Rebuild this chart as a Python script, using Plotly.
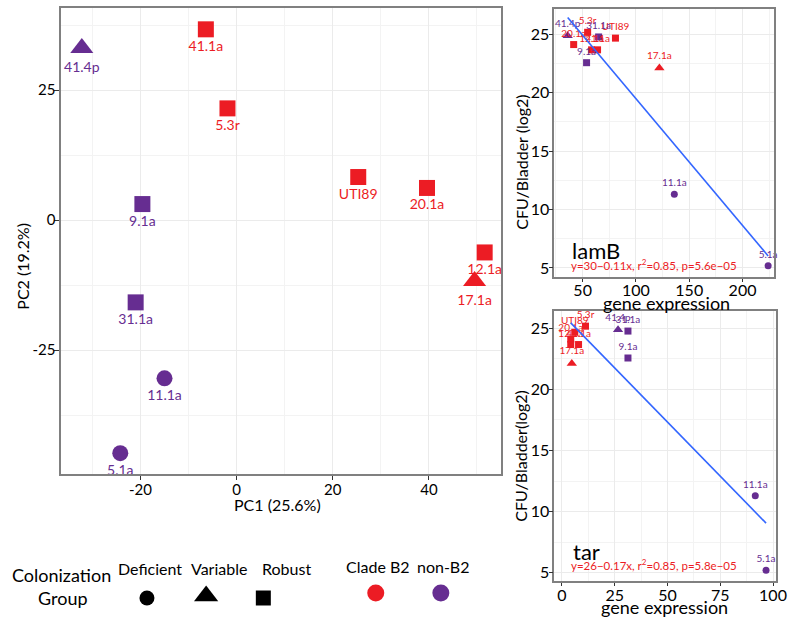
import numpy as np
import plotly.graph_objects as go

# ---------------- data ----------------
strains = ["41.4p", "41.1a", "5.3r", "9.1a", "UTI89", "20.1a", "12.1a", "17.1a", "31.1a", "11.1a", "5.1a"]
clade = ["non-B2", "B2", "B2", "non-B2", "B2", "B2", "B2", "B2", "non-B2", "non-B2", "non-B2"]
group = ["Variable", "Robust", "Robust", "Robust", "Robust", "Robust", "Robust", "Variable", "Robust", "Deficient", "Deficient"]
pc1 = [-32.2, -6.4, -1.9, -19.6, 25.3, 39.6, 51.6, 49.5, -21.0, -15.0, -24.2]
pc2 = [33.1, 36.7, 21.5, 3.1, 8.3, 6.2, -6.2, -11.7, -15.8, -30.4, -44.8]
cfu = [24.85, 23.65, 25.15, 22.55, 24.65, 24.1, 23.65, 22.1, 24.75, 11.3, 5.2]
lamB = [36, 64, 54.7, 53.7, 80.8, 41.6, 58.4, 122, 65, 136, 224]
tar = [26.6, 7.9, 11.2, 31.3, 6.1, 4.2, 4.2, 4.7, 31.3, 91.6, 96.7]

group_names = ["Deficient", "Variable", "Robust"]
clade_names = ["Clade B2", "non-B2"]
lamB_eq = "y=30\u22120.11x, r<sup>2</sup>=0.85, p=5.6e\u221205"
tar_eq = "y=26\u22120.17x, r<sup>2</sup>=0.85, p=5.8e\u221205"

# ---------------- styles ----------------
RED = "#EC1C24"
PURPLE = "#662D91"
FONT = "Lato"
col_map = {"B2": RED, "non-B2": PURPLE}
sym_map = {"Deficient": "circle", "Variable": "triangle-up", "Robust": "square"}
colors = [col_map[c] for c in clade]
symbols = [sym_map[g] for g in group]
big_sizes = [20 if g == "Variable" else 16 for g in group]
small_sizes = [9 if g == "Variable" else 7 for g in group]

fig = go.Figure()

# main PCA panel
fig.add_trace(go.Scatter(
    x=pc1, y=pc2, mode="markers+text", text=strains, textposition="bottom center",
    textfont=dict(family=FONT, size=14, color=colors),
    marker=dict(color=colors, symbol=symbols, size=big_sizes, opacity=1, line=dict(width=0)),
    cliponaxis=False, xaxis="x", yaxis="y", showlegend=False, hoverinfo="skip"))

# lamB panel
fig.add_trace(go.Scatter(
    x=lamB, y=cfu, mode="markers+text", text=strains, textposition="top center",
    textfont=dict(family=FONT, size=10, color=colors),
    marker=dict(color=colors, symbol=symbols, size=small_sizes, opacity=1, line=dict(width=0)),
    cliponaxis=False, xaxis="x2", yaxis="y2", showlegend=False, hoverinfo="skip"))
b1, b0 = np.polyfit(lamB, cfu, 1)
xl = np.array([min(lamB), max(lamB)])
fig.add_trace(go.Scatter(x=xl, y=b0 + b1 * xl, mode="lines", line=dict(color="#3366FF", width=1.6),
                         xaxis="x2", yaxis="y2", showlegend=False, hoverinfo="skip"))

# tar panel
fig.add_trace(go.Scatter(
    x=tar, y=cfu, mode="markers+text", text=strains, textposition="top center",
    textfont=dict(family=FONT, size=10, color=colors),
    marker=dict(color=colors, symbol=symbols, size=small_sizes, opacity=1, line=dict(width=0)),
    cliponaxis=False, xaxis="x3", yaxis="y3", showlegend=False, hoverinfo="skip"))
c1, c0 = np.polyfit(tar, cfu, 1)
xt = np.array([min(tar), max(tar)])
fig.add_trace(go.Scatter(x=xt, y=c0 + c1 * xt, mode="lines", line=dict(color="#3366FF", width=1.6),
                         xaxis="x3", yaxis="y3", showlegend=False, hoverinfo="skip"))

# custom legend (hidden axis x4/y4, units = pixels from bottom-left of legend strip)
fig.add_trace(go.Scatter(
    x=[149, 209, 267], y=[27, 29, 27], mode="markers",
    marker=dict(color="black", symbol=[sym_map[g] for g in group_names], size=[15, 21, 15],
                opacity=1, line=dict(width=0)),
    xaxis="x4", yaxis="y4", showlegend=False, hoverinfo="skip"))
fig.add_trace(go.Scatter(
    x=[381, 447], y=[32, 32], mode="markers",
    marker=dict(color=[RED, PURPLE], symbol="circle", size=17, opacity=1, line=dict(width=0)),
    xaxis="x4", yaxis="y4", showlegend=False, hoverinfo="skip"))

ann = []
def txt(x, y, s, size=16, color="black", xref="paper", yref="paper", xanchor="center",
        yanchor="middle", angle=0):
    ann.append(dict(x=x, y=y, text=s, xref=xref, yref=yref, showarrow=False,
                    xanchor=xanchor, yanchor=yanchor, textangle=angle,
                    font=dict(family=FONT, size=size, color=color)))

W, H = 800, 625
def px(xp, yp):
    return xp / W, 1 - yp / H

# legend texts
txt(62, 50, "Colonization", 18, xref="x4", yref="y4")
txt(64, 27, "Group", 18, xref="x4", yref="y4")
for xx, name in zip([152, 222, 290], group_names):
    txt(xx, 57, name, 16, xref="x4", yref="y4")
for xx, name in zip([383, 450], clade_names):
    txt(xx, 59, name, 16, xref="x4", yref="y4")

# axis titles
x_, y_ = px(281, 504); txt(x_, y_, "PC1 (25.6%)", 16)
x_, y_ = px(22, 266); txt(x_, y_, "PC2 (19.2%)", 16, angle=-90)
x_, y_ = px(676, 303); txt(x_, y_, "gene expression", 18)
x_, y_ = px(528, 162); txt(x_, y_, "CFU/Bladder (log2)", 16, angle=-90)
x_, y_ = px(674, 607); txt(x_, y_, "gene expression", 18)
x_, y_ = px(527, 456); txt(x_, y_, "CFU/Bladder(log2)", 16, angle=-90)

# panel labels and equations
txt(0.07, 0.10, "lamB", 22, xref="x2 domain", yref="y2 domain", xanchor="left")
txt(0.065, 0.048, lamB_eq, 11.5, color=RED, xref="x2 domain", yref="y2 domain", xanchor="left")
txt(0.075, 0.11, "tar", 22, xref="x3 domain", yref="y3 domain", xanchor="left")
txt(0.065, 0.062, tar_eq, 11.5, color=RED, xref="x3 domain", yref="y3 domain", xanchor="left")

GRID = "#ebebeb"
MINOR = "#f3f3f3"
BORDER = "#808080"

def ax(domain, rng, tickvals, minor_dtick, anchor, fsize, ticklen, standoff):
    return dict(domain=domain, range=rng, tickvals=tickvals, ticktext=[str(v) for v in tickvals],
                showgrid=True, gridcolor=GRID, gridwidth=1,
                minor=dict(dtick=minor_dtick, tick0=0, showgrid=True, gridcolor=MINOR, ticklen=0),
                showline=True, linecolor=BORDER, linewidth=1.5, mirror=True,
                ticks="outside", ticklen=ticklen, tickcolor="#333333", tickwidth=1,
                ticklabelstandoff=standoff,
                tickfont=dict(family=FONT, size=fsize, color="black"),
                zeroline=False, anchor=anchor, fixedrange=True)

layout = dict(
    width=W, height=H, margin=dict(l=0, r=0, t=0, b=0),
    paper_bgcolor="white", plot_bgcolor="white",
    font=dict(family=FONT),
    xaxis=ax([0.0775, 0.635], [-36.5, 55.0], [-20, 0, 20, 40], 10, "y", 15, 4, -3),
    yaxis=ax([0.2416, 0.9872], [-48.8, 40.8], [-25, 0, 25], 12.5, "x", 15, 5, -4),
    xaxis2=ax([0.7025, 0.98125], [23.4, 229.7], [50, 100, 150, 200], 25, "y2", 16, 3, -5),
    yaxis2=ax([0.5568, 0.9856], [4.23, 27.14], [5, 10, 15, 20, 25], 2.5, "x2", 16, 4, -4),
    xaxis3=ax([0.7025, 0.98375], [-3.6, 101.5], [0, 25, 50, 75, 100], 12.5, "y3", 16, 3, -4),
    yaxis3=ax([0.0704, 0.5024], [4.33, 26.39], [5, 10, 15, 20, 25], 2.5, "x3", 16, 4, -4),
    xaxis4=dict(domain=[0, 0.7], range=[0, 560], visible=False, anchor="y4", fixedrange=True),
    yaxis4=dict(domain=[0, 0.2], range=[0, 125], visible=False, anchor="x4", fixedrange=True),
    annotations=ann,
)
fig.update_layout(**layout)

fig.write_html("out.html", config={"displayModeBar": False},
               post_script="document.body.style.margin='0px';")
